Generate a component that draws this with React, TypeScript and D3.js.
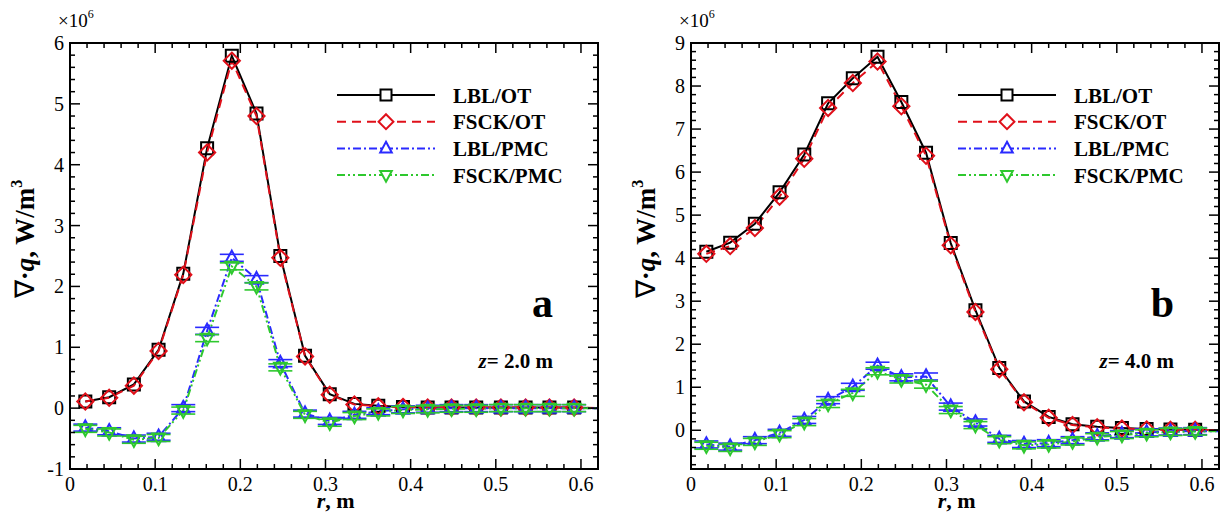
import { useEffect, useRef } from 'react';
import * as d3 from 'd3';

// radial positions of the samples (last one is the edge of the plot, no marker)
const rValues = [0.018, 0.046, 0.075, 0.104, 0.133, 0.161, 0.19, 0.219, 0.247, 0.276, 0.305, 0.334, 0.362, 0.391, 0.42, 0.448, 0.477, 0.506, 0.535, 0.563, 0.592, 0.62];

// panel a, z = 2.0 m (x 1e6 W/m3)
const lblOtA = [0.11, 0.18, 0.39, 0.96, 2.21, 4.27, 5.79, 4.84, 2.5, 0.86, 0.23, 0.07, 0.04, 0.02, 0.01, 0.01, 0.01, 0.01, 0.01, 0.01, 0.01, 0.0];
const fsckOtA = [0.11, 0.17, 0.37, 0.94, 2.19, 4.2, 5.71, 4.8, 2.47, 0.85, 0.22, 0.06, 0.03, 0.02, 0.01, 0.01, 0.01, 0.01, 0.01, 0.01, 0.01, 0.0];
const lblPmcA = [-0.32, -0.38, -0.5, -0.47, 0.0, 1.27, 2.47, 2.12, 0.74, -0.09, -0.21, -0.11, -0.05, -0.02, -0.01, 0, 0, 0, 0, 0, 0, 0];
const fsckPmcA = [-0.34, -0.4, -0.52, -0.49, -0.04, 1.15, 2.33, 2.0, 0.67, -0.11, -0.24, -0.13, -0.07, -0.03, -0.02, -0.01, -0.01, 0, 0, 0, 0, 0];

// panel b, z = 4.0 m
const lblOtB = [4.15, 4.36, 4.8, 5.53, 6.41, 7.6, 8.18, 8.68, 7.63, 6.45, 4.35, 2.79, 1.45, 0.67, 0.31, 0.14, 0.08, 0.05, 0.03, 0.02, 0.01, 0.0];
const fsckOtB = [4.1, 4.28, 4.7, 5.43, 6.31, 7.49, 8.07, 8.57, 7.53, 6.38, 4.3, 2.75, 1.42, 0.65, 0.29, 0.12, 0.07, 0.04, 0.02, 0.01, 0.01, 0.0];
const lblPmcB = [-0.33, -0.38, -0.23, -0.06, 0.24, 0.7, 1.01, 1.5, 1.23, 1.25, 0.55, 0.18, -0.2, -0.32, -0.3, -0.23, -0.14, -0.09, -0.05, -0.03, -0.02, -0.02];
const fsckPmcB = [-0.36, -0.41, -0.27, -0.09, 0.19, 0.61, 0.87, 1.37, 1.18, 1.06, 0.47, 0.12, -0.23, -0.35, -0.33, -0.26, -0.16, -0.11, -0.07, -0.04, -0.03, -0.02];

const xTicks = [0, 0.1, 0.2, 0.3, 0.4, 0.5, 0.6];
const yTicksA = [-1, 0, 1, 2, 3, 4, 5, 6];
const yTicksB = [0, 1, 2, 3, 4, 5, 6, 7, 8, 9];
const seriesNames = ['LBL/OT', 'FSCK/OT', 'LBL/PMC', 'FSCK/PMC'];

const FONT = '"Liberation Serif", "Times New Roman", serif';
const styles = [
  { color: '#000000', dash: null, marker: 'square', bars: false },
  { color: '#e0101a', dash: '9,6', marker: 'diamond', bars: false },
  { color: '#2a2aff', dash: '8,3,2,3', marker: 'up', bars: true },
  { color: '#2ec82e', dash: '8,3,2,3,2,3', marker: 'down', bars: true },
];

const panels = [
  { left: 70, right: 598, yDomain: [-1, 6], yTicks: yTicksA, data: [lblOtA, fsckOtA, lblPmcA, fsckPmcA], letter: 'a', zLabel: '2.0' },
  { left: 691, right: 1219, yDomain: [-0.9, 9], yTicks: yTicksB, data: [lblOtB, fsckOtB, lblPmcB, fsckPmcB], letter: 'b', zLabel: '4.0' },
];

const top = 43;
const bottom = 469;

function markerPath(kind: string, s: number) {
  if (kind === 'square') return `M${-s},${-s}H${s}V${s}H${-s}Z`;
  if (kind === 'diamond') return `M0,${-s * 1.35}L${s * 1.35},0L0,${s * 1.35}L${-s * 1.35},0Z`;
  if (kind === 'up') return `M0,${-s * 1.2}L${s * 1.05},${s * 0.75}L${-s * 1.05},${s * 0.75}Z`;
  return `M0,${s * 1.2}L${s * 1.05},${-s * 0.75}L${-s * 1.05},${-s * 0.75}Z`;
}

const App = () => {
  const svgRef = useRef<SVGSVGElement>(null);

  useEffect(() => {
    if (!svgRef.current) return;
    const svg = d3.select(svgRef.current);
    svg.selectAll('*').remove();

    panels.forEach((p) => {
      const x = d3.scaleLinear().domain([0, 0.62]).range([p.left, p.right]);
      const y = d3.scaleLinear().domain(p.yDomain).range([bottom, top]);
      const g = svg.append('g');

      // data lines
      p.data.forEach((vals, si) => {
        const st = styles[si];
        const line = d3.line<number>().x((_, i) => x(rValues[i])).y((d) => y(d));
        g.append('path')
          .attr('d', line(vals))
          .attr('fill', 'none')
          .attr('stroke', st.color)
          .attr('stroke-width', 2)
          .attr('stroke-dasharray', st.dash);
      });

      // markers and error bars
      p.data.forEach((vals, si) => {
        const st = styles[si];
        const pts = vals.slice(0, rValues.length - 1);
        if (st.bars) {
          pts.forEach((v, i) => {
            const cx = x(rValues[i]);
            const cy = y(v);
            [-3.5, 3.5].forEach((o) => {
              g.append('line')
                .attr('x1', cx - 12).attr('x2', cx + 12)
                .attr('y1', cy + o).attr('y2', cy + o)
                .attr('stroke', st.color).attr('stroke-width', 1.6);
            });
          });
        }
        g.selectAll(null)
          .data(pts)
          .join('path')
          .attr('transform', (d, i) => `translate(${x(rValues[i])},${y(d)})`)
          .attr('d', markerPath(st.marker, 6))
          .attr('fill', 'none')
          .attr('stroke', st.color)
          .attr('stroke-width', 2);
      });

      // frame with ticks on all four sides
      const frame = svg.append('g').attr('stroke', '#000');
      frame.append('rect')
        .attr('x', p.left).attr('y', top)
        .attr('width', p.right - p.left).attr('height', bottom - top)
        .attr('fill', 'none').attr('stroke-width', 2);

      const xMinor = d3.range(0, 0.621, 0.02);
      xMinor.forEach((t) => {
        const major = xTicks.some((m) => Math.abs(m - t) < 1e-6);
        const len = major ? 10 : 5;
        frame.append('line').attr('x1', x(t)).attr('x2', x(t)).attr('y1', bottom).attr('y2', bottom - len).attr('stroke-width', 1.5);
        frame.append('line').attr('x1', x(t)).attr('x2', x(t)).attr('y1', top).attr('y2', top + len).attr('stroke-width', 1.5);
      });
      const yMinor = d3.range(Math.ceil(p.yDomain[0] * 5) / 5, p.yDomain[1] + 0.01, 0.2);
      yMinor.forEach((t) => {
        const major = p.yTicks.some((m) => Math.abs(m - t) < 1e-6);
        const len = major ? 10 : 5;
        frame.append('line').attr('x1', p.left).attr('x2', p.left + len).attr('y1', y(t)).attr('y2', y(t)).attr('stroke-width', 1.5);
        frame.append('line').attr('x1', p.right).attr('x2', p.right - len).attr('y1', y(t)).attr('y2', y(t)).attr('stroke-width', 1.5);
      });

      // tick labels
      const txt = svg.append('g').attr('font-family', FONT).attr('fill', '#000');
      xTicks.forEach((t) => {
        txt.append('text').attr('x', x(t)).attr('y', 491).attr('text-anchor', 'middle')
          .attr('font-size', 20).text(String(t));
      });
      p.yTicks.forEach((t) => {
        txt.append('text').attr('x', p.left - 6).attr('y', y(t) + 7).attr('text-anchor', 'end')
          .attr('font-size', 20).text(String(t));
      });

      // x10^6
      const mult = txt.append('text').attr('x', p.left - 12).attr('y', 27).attr('font-size', 19);
      mult.append('tspan').text('×10');
      mult.append('tspan').attr('font-size', 12).attr('dy', -9).text('6');

      // axis titles
      const xt = txt.append('text').attr('x', x(0.312)).attr('y', 508).attr('text-anchor', 'middle')
        .attr('font-size', 22).attr('font-weight', 'bold');
      xt.append('tspan').attr('font-style', 'italic').text('r');
      xt.append('tspan').text(', m');

      const yt = txt.append('text')
        .attr('transform', `translate(${p.left - 36},239) rotate(-90)`)
        .attr('text-anchor', 'middle').attr('font-size', 27).attr('font-weight', 'bold');
      yt.append('tspan').attr('font-weight', 'normal').text('∇');
      yt.append('tspan').text('·');
      yt.append('tspan').attr('font-style', 'italic').text('q');
      yt.append('tspan').text(', W/m');
      yt.append('tspan').attr('font-size', 16).attr('dy', -12).text('3');

      // legend
      const lx0 = p.left + 267;
      const lx1 = p.left + 365;
      seriesNames.forEach((name, si) => {
        const st = styles[si];
        const ly = 95 + si * 26.7;
        txt.append('line').attr('x1', lx0).attr('x2', lx1).attr('y1', ly).attr('y2', ly)
          .attr('stroke', st.color).attr('stroke-width', 2).attr('stroke-dasharray', st.dash);
        txt.append('path').attr('transform', `translate(${(lx0 + lx1) / 2},${ly})`)
          .attr('d', markerPath(st.marker, 5.5)).attr('fill', 'white')
          .attr('stroke', st.color).attr('stroke-width', 2);
        txt.append('text').attr('x', p.left + 383).attr('y', ly + 7.5)
          .attr('font-size', 21).attr('font-weight', 'bold').text(name);
      });

      // panel letter and z label
      txt.append('text').attr('x', p.right - 45).attr('y', 317).attr('text-anchor', 'end')
        .attr('font-size', 42).attr('font-weight', 'bold').text(p.letter);
      const zt = txt.append('text').attr('x', p.right - 45).attr('y', 368).attr('text-anchor', 'end')
        .attr('font-size', 21).attr('font-weight', 'bold');
      zt.append('tspan').attr('font-style', 'italic').text('z');
      zt.append('tspan').text(`= ${p.zLabel} m`);
    });
  }, []);

  return (
    <svg
      ref={svgRef}
      width={1231}
      height={514}
      style={{ position: 'absolute', left: 0, top: 0, background: '#fff' }}
    />
  );
};

export default App;
